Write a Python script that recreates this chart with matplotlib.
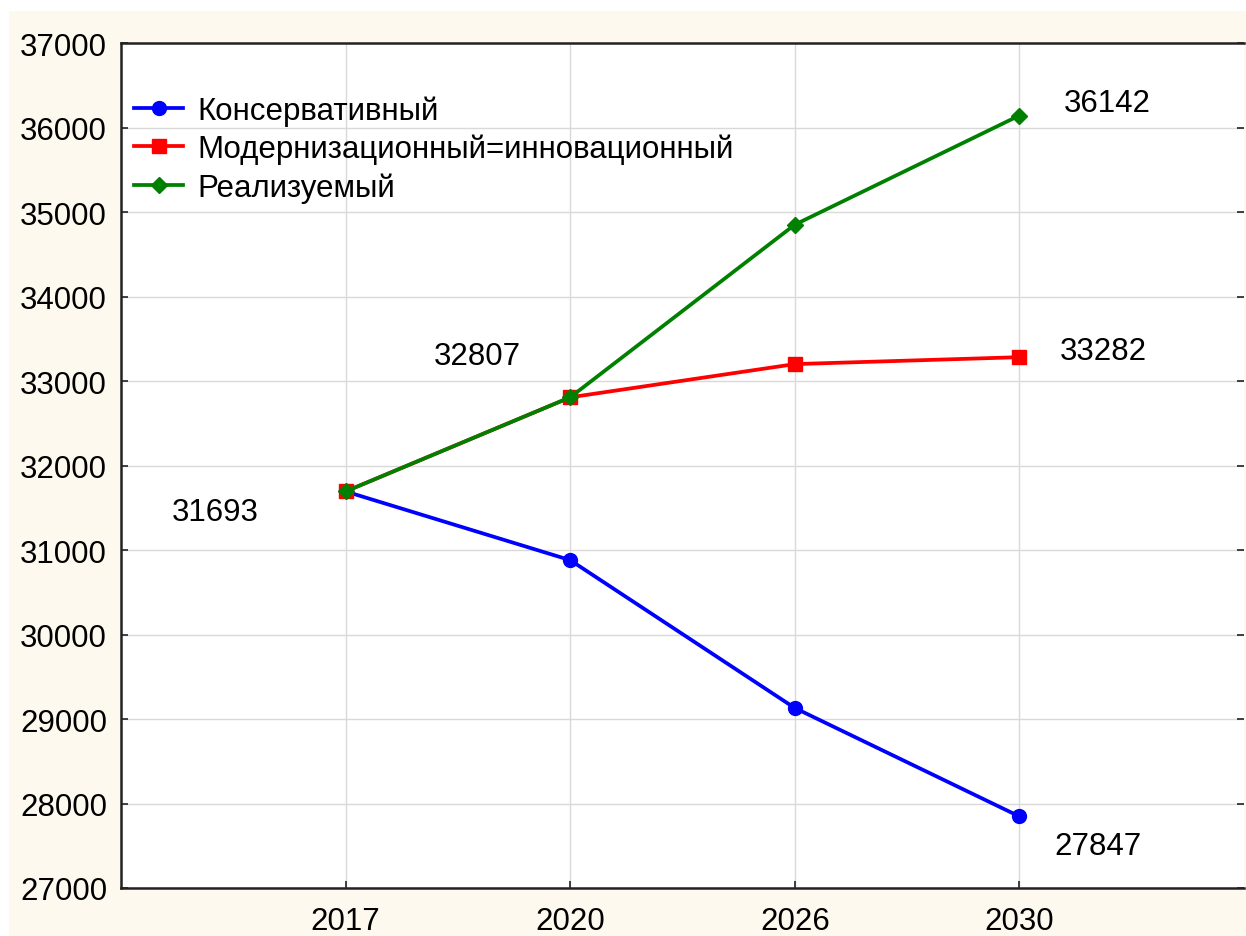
import matplotlib
matplotlib.use("Agg")
import matplotlib.pyplot as plt
from matplotlib.patches import Rectangle

plt.rcParams['font.family'] = ['Liberation Sans', 'DejaVu Sans']

years = ["2017", "2020", "2026", "2030"]
conservative = [31693, 30880, 29130, 27847]
modern = [31693, 32807, 33200, 33282]
realized = [31693, 32807, 34850, 36142]
series_names = ["Консервативный", "Модернизационный=инновационный", "Реализуемый"]
y_ticks = [27000, 28000, 29000, 30000, 31000, 32000, 33000, 34000, 35000, 36000, 37000]

# annotation: (series, index, offset in pixels)
labels = [
    (conservative, 0, (-130, -21)),
    (modern, 1, (-93, 41)),
    (modern, 3, (84, 6)),
    (realized, 3, (88, 13)),
    (conservative, 3, (79, -30)),
]

FS = 22.5

fig = plt.figure(figsize=(12.46, 9.37), dpi=100)
fig.patch.set_facecolor('white')
fig.patches.append(Rectangle((9/1246, 0), 1 - 9/1246, (937-12)/937,
                             transform=fig.transFigure, facecolor='#fef9ef',
                             edgecolor='none', zorder=-10))

ax = fig.add_axes([121/1246, 1 - 889/937, (1244-121)/1246, (889-44)/937])
ax.set_facecolor('white')

x = list(range(len(years)))
lw = 2.7
ax.plot(x, conservative, color='#0000ff', lw=lw, marker='o', ms=10, label=series_names[0], zorder=3)
ax.plot(x, modern, color='#ff0000', lw=lw, marker='s', ms=10, label=series_names[1], zorder=4)
ax.plot(x, realized, color='#008000', lw=lw, marker='D', ms=8, label=series_names[2], zorder=5)

for ser, i, off in labels:
    ax.annotate(str(ser[i]), (x[i], ser[i]), xytext=off, textcoords='offset pixels',
                ha='center', va='center', fontsize=FS, color='black')

ax.set_xlim(-1, 4)
ax.set_ylim(27000, 37000)
ax.set_xticks(x)
ax.set_xticklabels(years)
ax.set_yticks(y_ticks)
ax.set_yticklabels([str(v) for v in y_ticks])
ax.grid(True, color='#d9d9d9', lw=1)
ax.set_axisbelow(True)

ax.tick_params(axis='both', direction='in', length=5, width=1.2, labelsize=FS, color='#222222')
ax.tick_params(axis='y', pad=10, right=True)
ax.tick_params(axis='x', pad=13)
for side in ['left', 'bottom', 'top']:
    ax.spines[side].set_color('#222222')
    ax.spines[side].set_linewidth(1.8)
ax.spines['right'].set_visible(False)

ax.legend(loc='upper left', bbox_to_anchor=(0.012, 0.938), frameon=False, fontsize=FS,
          borderpad=0, borderaxespad=0, handlelength=1.55, handletextpad=0.45,
          labelspacing=0.25)

fig.savefig('out.png', dpi=100)
